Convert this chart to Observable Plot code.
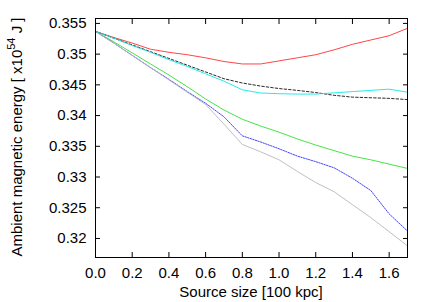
<!DOCTYPE html>
<html><head><meta charset="utf-8">
<script src="https://cdn.jsdelivr.net/npm/d3@7"></script>
<script src="https://cdn.jsdelivr.net/npm/@observablehq/plot@0.6"></script>
<style>body{margin:0;background:#fff;} svg{display:block;}</style>
</head><body>
<div id="chart"></div>
<script>
const xs = [0, 0.1, 0.2, 0.3, 0.4, 0.5, 0.6, 0.7, 0.8, 0.9, 1.0, 1.1, 1.2, 1.3, 1.4, 1.5, 1.6, 1.7];
const redY   = [0.3537, 0.3527, 0.3518, 0.3508, 0.3503, 0.3499, 0.3494, 0.3488, 0.3484, 0.3484, 0.3489, 0.3494, 0.3499, 0.3507, 0.3516, 0.3523, 0.3530, 0.3542];
const blackY = [0.3537, 0.3526, 0.3515, 0.3504, 0.3493, 0.3482, 0.3471, 0.3460, 0.3453, 0.3448, 0.3444, 0.3441, 0.34375, 0.3433, 0.3430, 0.3429, 0.3428, 0.3426];
const cyanY  = [0.3537, 0.3526, 0.3514, 0.3503, 0.3491, 0.3480, 0.3468, 0.3456, 0.3442, 0.34367, 0.34356, 0.3435, 0.3435, 0.3437, 0.3439, 0.3441, 0.3443, 0.3438];
const greenY = [0.3537, 0.3520, 0.3502, 0.3484, 0.3466, 0.3447, 0.3427, 0.3409, 0.3394, 0.3383, 0.3373, 0.3362, 0.3352, 0.3343, 0.3334, 0.3328, 0.3321, 0.3314];
const blueY  = [0.3537, 0.3518, 0.3498, 0.3478, 0.3459, 0.3439, 0.3420, 0.3398, 0.3367, 0.3357, 0.3346, 0.3334, 0.3325, 0.3315, 0.3298, 0.3278, 0.3240, 0.3212];
const grayY  = [0.3537, 0.3518, 0.3498, 0.3478, 0.3458, 0.3438, 0.3418, 0.3386, 0.3353, 0.3341, 0.3328, 0.3309, 0.3291, 0.3276, 0.3255, 0.3234, 0.3211, 0.3188];
const xTicks = [0, 0.2, 0.4, 0.6, 0.8, 1.0, 1.2, 1.4, 1.6];
const yTicks = [0.32, 0.325, 0.33, 0.335, 0.34, 0.345, 0.35, 0.355];
const xTitle = "Source size [100 kpc]";
const yTitleParts = ["Ambient magnetic energy [ x10", "54", " J ]"];

const series = [
  {y: redY,   stroke: "#ff3030", dash: null},
  {y: blackY, stroke: "#111111", dash: "2.5,2"},
  {y: cyanY,  stroke: "#10e6e6", dash: null},
  {y: greenY, stroke: "#30e030", dash: null},
  {y: blueY,  stroke: "#3030ff", dash: "1.5,1.2"},
  {y: grayY,  stroke: "#b8b8b8", dash: null}
];
const toRows = s => xs.map((x, i) => ({x, y: s.y[i]}));

const plot = Plot.plot({
  width: 432, height: 302,
  marginLeft: 95, marginRight: 25, marginTop: 18, marginBottom: 45,
  style: {fontFamily: "'Liberation Sans', Arial, sans-serif", fontSize: "15px", color: "#000", background: "#fff"},
  x: {domain: [0, 1.7]},
  y: {domain: [0.3169, 0.3558]},
  marks: [
    ...series.map(s => Plot.line(toRows(s), {x: "x", y: "y", stroke: s.stroke, strokeWidth: 0.9, strokeDasharray: s.dash})),
    Plot.frame({stroke: "#000", strokeWidth: 1}),
    Plot.axisX({anchor: "bottom", ticks: xTicks, tickSize: -5, tickPadding: 15, tickFormat: d => d.toFixed(1), label: null, fontSize: 15}),
    Plot.axisX({anchor: "top", ticks: xTicks, tickSize: -5, tickFormat: () => "", label: null}),
    Plot.axisY({anchor: "left", ticks: yTicks, tickSize: -5, tickPadding: 14, tickFormat: d => String(+d.toFixed(3)), label: null, fontSize: 15}),
    Plot.axisY({anchor: "right", ticks: yTicks, tickSize: -5, tickFormat: () => "", label: null})
  ]
});
document.getElementById("chart").appendChild(plot);

const svg = d3.select(plot);
svg.append("text")
  .attr("x", 251).attr("y", 297)
  .attr("text-anchor", "middle")
  .attr("font-family", "'Liberation Sans', Arial, sans-serif")
  .attr("font-size", 15)
  .text(xTitle);
const yt = svg.append("text")
  .attr("transform", "translate(22,137) rotate(-90)")
  .attr("text-anchor", "middle")
  .attr("font-family", "'Liberation Sans', Arial, sans-serif")
  .attr("font-size", 15);
yt.append("tspan").text(yTitleParts[0]);
yt.append("tspan").attr("dy", -7).attr("font-size", 11).text(yTitleParts[1]);
yt.append("tspan").attr("dy", 7).text(yTitleParts[2]);
</script>
</body></html>
